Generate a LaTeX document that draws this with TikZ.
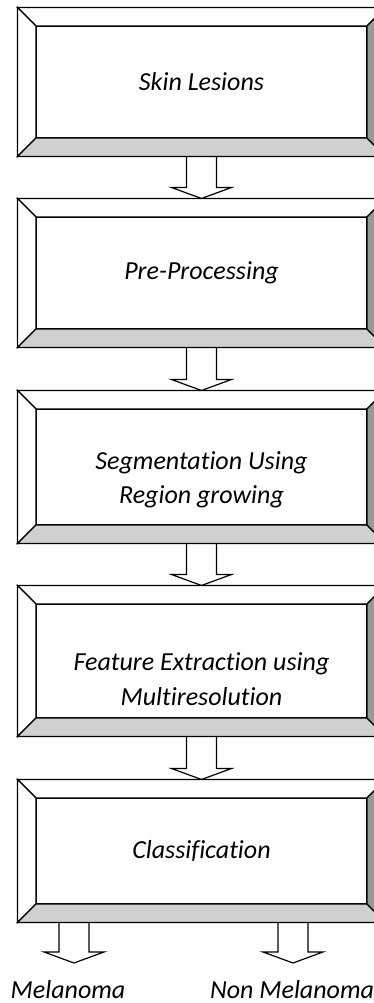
\documentclass[tikz,border=0pt]{standalone}
\usepackage{fontspec}
\setmainfont{Carlito}[Ligatures=NoCommon]
\usetikzlibrary{calc}
\definecolor{bevellight}{RGB}{208,208,208}
\definecolor{beveldark}{RGB}{153,153,153}
\tikzset{
  stagebox/.style={draw, line width=1.2pt, rectangle, inner sep=0pt, outer sep=18.5pt, minimum width=331pt},
  stagetext/.style={inner sep=0pt, align=center, font=\fontsize{26}{34.5}\selectfont\itshape},
  bevel/.style={draw, line width=1.2pt, line join=miter},
  hollowarrow/.style={draw, line width=1.2pt, line join=miter},
  outcome/.style={font=\fontsize{26}{34.5}\selectfont\itshape, anchor=base, inner sep=0pt}
}
\newcommand{\bevelframe}[1]{%
  \path[bevel, fill=white] (#1.north west) -- (#1.north east) -- ($(#1.north east)+(-18.5,-18.5)$) -- ($(#1.north west)+(18.5,-18.5)$) -- cycle;
  \path[bevel, fill=white] (#1.north west) -- ($(#1.north west)+(18.5,-18.5)$) -- ($(#1.south west)+(18.5,18.5)$) -- (#1.south west) -- cycle;
  \path[bevel, fill=bevellight] (#1.south west) -- ($(#1.south west)+(18.5,18.5)$) -- ($(#1.south east)+(-18.5,18.5)$) -- (#1.south east) -- cycle;
  \path[bevel, fill=beveldark] (#1.north east) -- ($(#1.north east)+(-18.5,-18.5)$) -- ($(#1.south east)+(-18.5,18.5)$) -- (#1.south east) -- cycle;
}
\newcommand{\hollowdown}[2]{%
  \draw[hollowarrow] ($(#1)+(-15,0)$) -- ($(#2)+(-15,11)$) -- ($(#2)+(-30,11)$) -- (#2) -- ($(#2)+(30,11)$) -- ($(#2)+(15,11)$) -- ($(#1)+(15,0)$);
}
\begin{document}
\begin{tikzpicture}[x=1pt, y=1pt]
\useasboundingbox (0,0) rectangle (374,1003);

\node[stagebox, minimum height=112pt] (s1) at (201.5,921) {};
\node[stagebox, minimum height=112pt] (s2) at (201.5,730) {};
\node[stagebox, minimum height=116pt] (s3) at (201.5,536) {};
\node[stagebox, minimum height=114pt] (s4) at (201.5,342) {};
\node[stagebox, minimum height=106pt] (s5) at (201.5,152) {};

\node[stagetext] (t1) at (s1.center) {Skin Lesions};
\node[stagetext] (t2) at (s2.center) {Pre-Processing};
\node[stagetext] (t3) at ($(s3.center)+(0,-13)$) {Segmentation Using\\Region growing};
\node[stagetext] (t4) at ($(s4.center)+(0,-18)$) {Feature Extraction using\\Multiresolution};
\node[stagetext] (t5) at (s5.center) {Classification};

\node[outcome] (mel) at (68,5) {Melanoma};
\node[outcome] (nonmel) at (292,5) {Non Melanoma};
\coordinate (mtip) at (74,40);
\coordinate (ntip) at (293,40);
\coordinate (mtop) at (s5.south -| mtip);
\coordinate (ntop) at (s5.south -| ntip);

\hollowdown{s1.south}{s2.north}
\hollowdown{s2.south}{s3.north}
\hollowdown{s3.south}{s4.north}
\hollowdown{s4.south}{s5.north}
\hollowdown{mtop}{mtip}
\hollowdown{ntop}{ntip}

\bevelframe{s1}
\bevelframe{s2}
\bevelframe{s3}
\bevelframe{s4}
\bevelframe{s5}
\end{tikzpicture}
\end{document}
